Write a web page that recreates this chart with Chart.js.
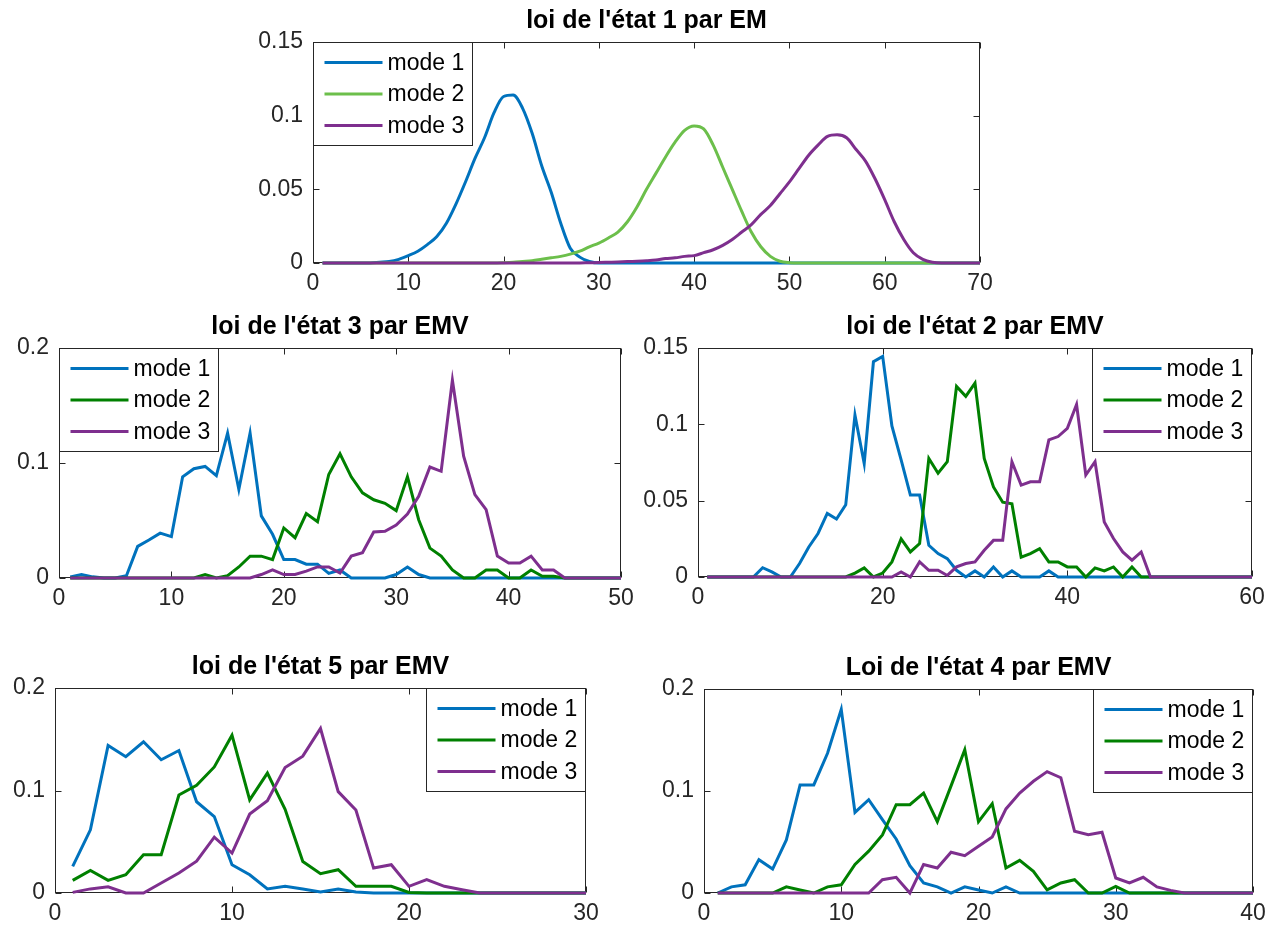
<!DOCTYPE html>
<html>
<head>
<meta charset="utf-8">
<script src="https://cdn.jsdelivr.net/npm/chart.js@4.4.0/dist/chart.umd.min.js"></script>
<style>
  body { margin: 0; background: #fff; }
  #wrap { position: relative; width: 1275px; height: 934px; overflow: hidden; }
  #wrap canvas { position: absolute; }
</style>
</head>
<body>
<div id="wrap"></div>
<script>
//* données (x = 1, 2, 3, ...)
const x70 = [1,2,3,4,5,6,7,8,9,10,11,12,13,14,15,16,17,18,19,20,21,22,23,24,25,26,27,28,29,30,31,32,33,34,35,36,37,38,39,40,41,42,43,44,45,46,47,48,49,50,51,52,53,54,55,56,57,58,59,60,61,62,63,64,65,66,67,68,69,70];

//* état 1 par EM
const etat1_mode1 = [0,0,0,0,0,0,0.0005,0.001,0.0025,0.005, 0.008,0.0125,0.018,0.027,0.04,0.055,0.071,0.085,0.102,0.113, 0.114,0.105,0.088,0.066,0.048,0.027,0.01,0.004,0.001,0, 0,0,0,0,0,0,0,0,0,0, 0,0,0,0,0,0,0,0,0,0, 0,0,0,0,0,0,0,0,0,0, 0,0,0,0,0,0,0,0,0,0];
const etat1_mode2 = [0,0,0,0,0,0,0,0,0,0, 0,0,0,0,0,0,0,0,0,0.0002, 0.0005,0.001,0.0015,0.0025,0.0035,0.0045,0.006,0.008,0.011,0.0135, 0.017,0.021,0.028,0.038,0.05,0.061,0.072,0.082,0.09,0.093, 0.091,0.08,0.065,0.05,0.035,0.021,0.011,0.0045,0.0012,0.0002, 0,0,0,0,0,0,0,0,0,0, 0,0,0,0,0,0,0,0,0,0];
const etat1_mode3 = [0,0,0,0,0,0,0,0,0,0, 0,0,0,0,0,0,0,0,0,0, 0,0,0,0,0,0,0,0,0.0002,0.0003, 0.0005,0.0007,0.001,0.0012,0.0015,0.002,0.003,0.0035,0.0045,0.005, 0.007,0.009,0.012,0.016,0.021,0.026,0.033,0.039,0.047,0.055, 0.064,0.073,0.08,0.086,0.087,0.085,0.077,0.069,0.057,0.043, 0.028,0.016,0.007,0.0025,0.0005,0,0,0,0,0];

//* état 3 par EMV
const etat3_mode1 = [0.001,0.003,0.001,0,0,0.002,0.0275,0.033,0.039,0.036, 0.088,0.095,0.097,0.089,0.126,0.077,0.126,0.054,0.038,0.016, 0.016,0.012,0.012,0.004,0.007,0,0,0,0,0.003, 0.0096,0.003,0,0,0,0,0,0,0,0, 0,0,0,0,0,0,0,0,0,0];
const etat3_mode2 = [0,0,0,0,0,0,0,0,0,0, 0,0,0.003,0,0.002,0.0096,0.019,0.019,0.016,0.0435, 0.035,0.056,0.049,0.09,0.108,0.088,0.074,0.068,0.065,0.0586, 0.088,0.0507,0.026,0.019,0.007,0,0,0.007,0.007,0, 0,0.007,0.0015,0.0015,0,0,0,0,0,0];
const etat3_mode3 = [0,0,0,0,0,0,0,0,0,0, 0,0,0,0,0,0,0,0.003,0.007,0.003, 0.003,0.006,0.0096,0.0096,0.0043,0.019,0.022,0.04,0.0406,0.046, 0.0557,0.071,0.0965,0.0928,0.172,0.106,0.0725,0.0594,0.019,0.013, 0.013,0.019,0.007,0.007,0,0,0,0,0,0];

//* état 2 par EMV
const etat2_mode1 = [0,0,0,0,0,0,0.0061,0.0033,0,0, 0.0088,0.0197,0.0285,0.0416,0.038,0.0473,0.106,0.0744,0.141,0.1445, 0.099,0.0767,0.0537,0.0537,0.0208,0.0153,0.012,0.0044,0,0.004, 0,0.0066,0,0.004,0,0,0,0.004,0,0, 0,0,0,0,0,0,0,0,0,0, 0,0,0,0,0,0,0,0,0,0];
const etat2_mode2 = [0,0,0,0,0,0,0,0,0,0, 0,0,0,0,0,0,0.0026,0.006,0,0.0026, 0.0099,0.025,0.0164,0.0219,0.0777,0.068,0.0755,0.1248,0.1183,0.127, 0.0777,0.059,0.049,0.048,0.013,0.0153,0.0186,0.0099,0.0099,0.0066, 0.0066,0,0.006,0.004,0.0066,0,0.0066,0,0,0, 0,0,0,0,0,0,0,0,0,0];
const etat2_mode3 = [0,0,0,0,0,0,0,0,0,0, 0,0,0,0,0,0,0,0,0,0, 0,0.0033,0,0.0099,0.0044,0.0044,0.001,0.0066,0.0088,0.0099, 0.0175,0.024,0.024,0.0755,0.0602,0.0624,0.0624,0.0898,0.092,0.0974, 0.113,0.0668,0.0755,0.0361,0.0252,0.0164,0.011,0.0164,0,0, 0,0,0,0,0,0,0,0,0,0];

//* état 5 par EMV
const etat5_mode1 = [0.026,0.0616,0.144,0.133,0.1475,0.13,0.139,0.089,0.0746,0.0276, 0.0178,0.0039,0.0065,0.0039,0.001,0.004,0.001,0,0,0, 0,0,0,0,0,0,0,0,0,0];
const etat5_mode2 = [0.0123,0.022,0.0123,0.0178,0.0373,0.0373,0.0956,0.105,0.123,0.154, 0.0908,0.117,0.0817,0.0308,0.0188,0.0227,0.0065,0.0065,0.0065,0.0006, 0,0,0,0,0,0,0,0,0,0];
const etat5_mode3 = [0.0006,0.004,0.006,0,0,0.0097,0.0195,0.031,0.0545,0.039, 0.077,0.09,0.1225,0.1335,0.1605,0.0989,0.081,0.0243,0.0276,0.0065, 0.013,0.0065,0.0032,0,0,0,0,0,0,0];

//* état 4 par EMV
const etat4_mode1 = [0,0.006,0.008,0.0327,0.0235,0.052,0.106,0.106,0.137,0.18, 0.079,0.0915,0.072,0.053,0.0268,0.0098,0.006,0,0.006,0.003, 0,0.006,0,0,0,0,0,0,0,0, 0,0,0,0,0,0,0,0,0,0];
const etat4_mode2 = [0,0,0,0,0,0.006,0.003,0,0.006,0.008, 0.028,0.041,0.057,0.0866,0.0866,0.098,0.07,0.105,0.1405,0.07, 0.0876,0.0245,0.032,0.0212,0.003,0.0098,0.013,0,0,0.0065, 0,0,0,0,0,0,0,0,0,0];
const etat4_mode3 = [0,0,0,0,0,0,0,0,0,0, 0,0,0.013,0.0154,0,0.028,0.0245,0.04,0.0366,0.0458, 0.055,0.0824,0.098,0.1095,0.119,0.113,0.0605,0.0572,0.0595,0.0147, 0.0098,0.0154,0.006,0.0026,0,0,0,0,0,0];

const nomsModes = ["mode 1", "mode 2", "mode 3"];

//* couleurs et police
const BLEU = "#0072BD";
const VERT = "#008000";
const VERT_CLAIR = "#6CBF4B";
const VIOLET = "#7E2F8E";
const AXE = "#262626";
const POLICE = "'Liberation Sans', Arial, Helvetica, sans-serif";

//* plugin : cadre, graduations vers l'intérieur, titre et légende
const cadrePlugin = {
  id: "cadre",
  beforeDatasetsDraw(chart) {
    const { ctx, chartArea: a, scales } = chart;
    ctx.save();
    ctx.strokeStyle = AXE;
    ctx.lineWidth = 1;
    const L = Math.round(a.left) + 0.5, R = Math.round(a.right) - 0.5;
    const T = Math.round(a.top) + 0.5, B = Math.round(a.bottom) - 0.5;
    ctx.strokeRect(L, T, R - L, B - T);
    ctx.beginPath();
    for (const t of scales.x.ticks) {
      const px = Math.round(scales.x.getPixelForValue(t.value)) + 0.5;
      ctx.moveTo(px, B); ctx.lineTo(px, B - 6);
      ctx.moveTo(px, T); ctx.lineTo(px, T + 6);
    }
    for (const t of scales.y.ticks) {
      const py = Math.round(scales.y.getPixelForValue(t.value)) + 0.5;
      ctx.moveTo(L, py); ctx.lineTo(L + 6, py);
      ctx.moveTo(R, py); ctx.lineTo(R - 6, py);
    }
    ctx.stroke();
    ctx.restore();
  },
  afterDraw(chart, args, opts) {
    const { ctx, chartArea: a } = chart;
    ctx.save();
    // titre
    ctx.fillStyle = "#000";
    ctx.font = "bold 25px " + POLICE;
    ctx.textAlign = "center";
    ctx.textBaseline = "middle";
    ctx.fillText(opts.titre, (a.left + a.right) / 2, a.top - 21);
    // légende
    const w = 159, h = 103;
    const x0 = opts.legende === "gauche" ? Math.round(a.left) + 0.5 : Math.round(a.right) - w - 0.5;
    const y0 = Math.round(a.top) + 0.5;
    ctx.fillStyle = "#fff";
    ctx.fillRect(x0, y0, w, h);
    ctx.strokeStyle = AXE;
    ctx.lineWidth = 1;
    ctx.strokeRect(x0, y0, w, h);
    ctx.font = "23px " + POLICE;
    ctx.textAlign = "left";
    chart.data.datasets.forEach((ds, i) => {
      const y = y0 + 20 + i * 31.5;
      ctx.strokeStyle = ds.borderColor;
      ctx.lineWidth = 3;
      ctx.beginPath();
      ctx.moveTo(x0 + 11, y); ctx.lineTo(x0 + 69, y);
      ctx.stroke();
      ctx.fillStyle = "#000";
      ctx.fillText(ds.label, x0 + 74, y + 1);
    });
    ctx.restore();
  }
};

//* Fonction pour créer un graphe à une position donnée (zone = [gauche, haut, droite, bas])
function creerGraphe(cfg) {
  const [l, t, r, b] = cfg.zone;
  const padL = Math.min(70, l), padT = Math.min(45, t), padR = 30, padB = 40;
  const canvas = document.createElement("canvas");
  canvas.width = r - l + padL + padR;
  canvas.height = b - t + padT + padB;
  canvas.style.left = (l - padL) + "px";
  canvas.style.top = (t - padT) + "px";
  document.getElementById("wrap").appendChild(canvas);

  const couleurs = [BLEU, cfg.vert, VIOLET];
  const datasets = cfg.series.map((serie, i) => ({
    label: nomsModes[i],
    data: serie.map((v, k) => ({ x: x70[k], y: v })),
    borderColor: couleurs[i],
    borderWidth: 3,
    pointRadius: 0,
    tension: 0,
    cubicInterpolationMode: cfg.lisse ? "monotone" : "default",
    fill: false,
    clip: false,
    order: 3 - i
  }));

  new Chart(canvas, {
    type: "line",
    data: { datasets },
    plugins: [cadrePlugin],
    options: {
      responsive: false,
      animation: false,
      devicePixelRatio: 1,
      layout: { padding: { top: padT, right: padR, left: 0, bottom: 0 } },
      plugins: {
        legend: { display: false },
        title: { display: false },
        tooltip: { enabled: false },
        cadre: { titre: cfg.titre, legende: cfg.legende }
      },
      scales: {
        x: {
          type: "linear",
          min: 0,
          max: cfg.xmax,
          afterFit(s) { s.height = padB; },
          grid: { display: false, drawTicks: false },
          border: { display: false },
          ticks: {
            stepSize: cfg.xpas,
            autoSkip: false,
            maxRotation: 0,
            padding: 7,
            color: AXE,
            font: { family: POLICE, size: 23 },
            callback: (v) => String(v)
          }
        },
        y: {
          type: "linear",
          min: 0,
          max: cfg.ymax,
          afterFit(s) { s.width = padL; },
          grid: { display: false, drawTicks: false },
          border: { display: false },
          ticks: {
            stepSize: cfg.ypas,
            autoSkip: false,
            padding: 10,
            color: AXE,
            font: { family: POLICE, size: 23 },
            callback: (v) => String(parseFloat(Number(v).toFixed(3)))
          }
        }
      }
    }
  });
}

creerGraphe({
  zone: [313, 42, 980, 263], titre: "loi de l'état 1 par EM", legende: "gauche", lisse: true,
  vert: VERT_CLAIR, xmax: 70, xpas: 10, ymax: 0.15, ypas: 0.05,
  series: [etat1_mode1, etat1_mode2, etat1_mode3]
});
creerGraphe({
  zone: [59, 348, 621, 578], titre: "loi de l'état 3 par EMV", legende: "gauche",
  vert: VERT, xmax: 50, xpas: 10, ymax: 0.2, ypas: 0.1,
  series: [etat3_mode1, etat3_mode2, etat3_mode3]
});
creerGraphe({
  zone: [698, 348, 1252, 577], titre: "loi de l'état 2 par EMV", legende: "droite",
  vert: VERT, xmax: 60, xpas: 20, ymax: 0.15, ypas: 0.05,
  series: [etat2_mode1, etat2_mode2, etat2_mode3]
});
creerGraphe({
  zone: [55, 688, 586, 893], titre: "loi de l'état 5 par EMV", legende: "droite",
  vert: VERT, xmax: 30, xpas: 10, ymax: 0.2, ypas: 0.1,
  series: [etat5_mode1, etat5_mode2, etat5_mode3]
});
creerGraphe({
  zone: [704, 689, 1253, 893], titre: "Loi de l'état 4 par EMV", legende: "droite",
  vert: VERT, xmax: 40, xpas: 10, ymax: 0.2, ypas: 0.1,
  series: [etat4_mode1, etat4_mode2, etat4_mode3]
});
</script>
</body>
</html>
